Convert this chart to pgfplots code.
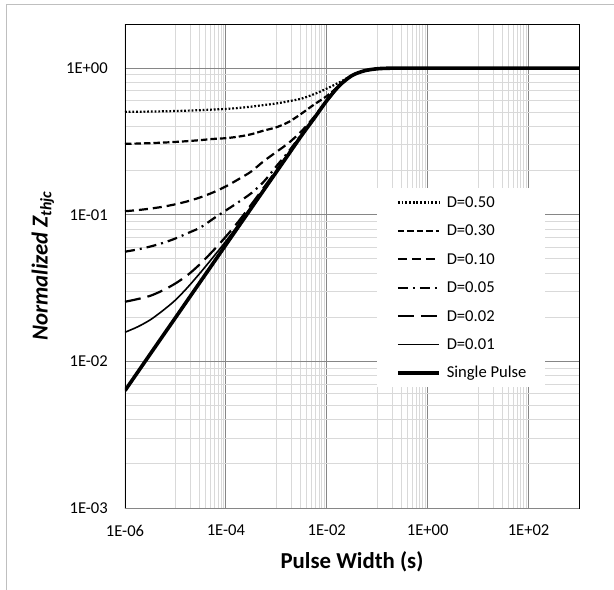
\documentclass[border=0pt]{standalone}
\usepackage{fontspec}
\setmainfont{Carlito}
\usepackage{pgfplots}
\pgfplotsset{compat=1.18}
\usepackage{pgfplotstable}

\definecolor{majgrid}{RGB}{134,134,134}
\definecolor{mingrid}{RGB}{217,217,217}
\definecolor{frame}{RGB}{191,191,191}
\newcommand\ticksize{\fontsize{16.6bp}{19bp}\selectfont}
\newcommand\titlesize{\fontsize{22.8bp}{26bp}\selectfont}

% normalized transient thermal impedance
\pgfplotstableread{
t        d50    d30    d10    d05    d02    d01    sp
1e-6     0.5032 0.3044 0.1057 0.0560 0.0255 0.0158 0.00632
1.778e-6 0.5042 0.3059 0.1076 0.0580 0.0266 0.0172 0.00842
3.162e-6 0.5056 0.3079 0.1101 0.0607 0.0280 0.0192 0.01122
5.623e-6 0.5075 0.3105 0.1134 0.0642 0.0305 0.0222 0.01493
1e-5     0.5099 0.3139 0.1179 0.0689 0.0340 0.0262 0.01986
1.778e-5 0.5130 0.3180 0.1238 0.0751 0.0390 0.0322 0.02644
3.162e-5 0.5170 0.3230 0.1317 0.0820 0.0465 0.0405 0.03519
5.623e-5 0.5220 0.3290 0.1422 0.0940 0.0570 0.0515 0.04684
1e-4     0.5270 0.3330 0.1561 0.1070 0.0710 0.0660 0.06237
1.778e-4 0.5350 0.3410 0.1747 0.1220 0.0900 0.0860 0.0830
3.162e-4 0.5460 0.3540 0.1970 0.1400 0.1170 0.1135 0.1105
5.623e-4 0.5600 0.3750 0.2320 0.1680 0.1530 0.1495 0.1471
1e-3     0.5740 0.3950 0.2680 0.2140 0.2010 0.1975 0.1958
1.778e-3 0.5950 0.4300 0.3100 0.2720 0.2640 0.2615 0.2606
3.162e-3 0.6200 0.4900 0.3720 0.3540 0.3490 0.3475 0.3470
5.623e-3 0.6650 0.5650 0.4650 0.4580 0.4560 0.4550 0.4550
1e-2     0.7250 0.6450 0.6030 0.6010 0.6000 0.6000 0.6000
1.778e-2 0.8000 0.7600 0.7600 0.7600 0.7600 0.7600 0.7600
3.162e-2 0.8900 0.8900 0.8900 0.8900 0.8900 0.8900 0.8900
5.623e-2 0.9600 0.9600 0.9600 0.9600 0.9600 0.9600 0.9600
0.1      0.9900 0.9900 0.9900 0.9900 0.9900 0.9900 0.9900
0.1778   0.9990 0.9990 0.9990 0.9990 0.9990 0.9990 0.9990
0.3162   1.0    1.0    1.0    1.0    1.0    1.0    1.0
1        1.0    1.0    1.0    1.0    1.0    1.0    1.0
10       1.0    1.0    1.0    1.0    1.0    1.0    1.0
100      1.0    1.0    1.0    1.0    1.0    1.0    1.0
1000     1.0    1.0    1.0    1.0    1.0    1.0    1.0
}\zth

\begin{document}
\begin{tikzpicture}
  \path[use as bounding box] (0,0) rectangle (614bp,590bp);
  \draw[frame, line width=1bp] (6bp,0) -- (6bp,585bp) -- (614bp,585bp);
  \begin{axis}[
      at={(125bp,82bp)}, anchor=south west,
      width=454bp, height=484bp, scale only axis,
      xmode=log, ymode=log,
      xmin=1e-6, xmax=1e3, ymin=1e-3, ymax=2,
      xtick={1e-6,1e-4,1e-2,1,100},
      xticklabels={1E-06,1E-04,1E-02,1E+00,1E+02},
      ytick={1e-3,1e-2,1e-1,1},
      yticklabels={1E-03,1E-02,1E-01,1E+00},
      minor xtick={1e-5,2e-5,3e-5,4e-5,5e-5,6e-5,7e-5,8e-5,9e-5,
                   1e-3,2e-3,3e-3,4e-3,5e-3,6e-3,7e-3,8e-3,9e-3,
                   0.1,0.2,0.3,0.4,0.5,0.6,0.7,0.8,0.9,
                   10,20,30,40,50,60,70,80,90},
      minor ytick={2e-3,3e-3,4e-3,5e-3,6e-3,7e-3,8e-3,9e-3,
                   0.02,0.03,0.04,0.05,0.06,0.07,0.08,0.09,
                   0.2,0.3,0.4,0.5,0.6,0.7,0.8,0.9,2},
      grid=both,
      major grid style={majgrid, line width=0.9bp},
      minor grid style={mingrid, line width=0.9bp},
      major tick length=0pt, minor tick length=0pt,
      axis line style={black, line width=0.9bp},
      tick label style={font=\ticksize},
      xticklabel style={inner sep=0pt, yshift=-17bp},
      yticklabel style={inner sep=0pt, xshift=-17bp},
      xlabel={\bfseries Pulse Width (s)},
      ylabel={\bfseries\itshape Normalized Z\textsubscript{thjc}},
      xlabel style={font=\titlesize, at={(axis description cs:0.5,-0.112)}, anchor=center},
      ylabel style={font=\titlesize, at={(axis description cs:-0.181,0.5)}, anchor=center, rotate=0},
      legend cell align=left,
      legend style={at={(rel axis cs:0.555,0.661)}, anchor=north west,
        draw=none, fill=white, inner xsep=19bp, inner ysep=0pt,
        row sep=0pt, font=\ticksize,
        nodes={inner sep=0pt, text height=19.3bp, text depth=9.1bp},
        /tikz/every odd column/.append style={column sep=6bp}},
      legend image code/.code={\draw[#1] (0bp,0bp) -- (41bp,0bp);},
    ]
    \addplot[black, line width=2.2bp, dash pattern=on 1.8bp off 1.9bp, smooth] table[x=t, y=d50] {\zth};
    \addplot[black, line width=2.2bp, dash pattern=on 6.5bp off 3bp, smooth] table[x=t, y=d30] {\zth};
    \addplot[black, line width=2.2bp, dash pattern=on 9bp off 5bp, smooth] table[x=t, y=d10] {\zth};
    \addplot[black, line width=2.2bp, dash pattern=on 10bp off 5bp on 2bp off 5bp, smooth] table[x=t, y=d05] {\zth};
    \addplot[black, line width=2.2bp, dash pattern=on 16bp off 7bp, smooth] table[x=t, y=d02] {\zth};
    \addplot[black, line width=1.6bp, smooth] table[x=t, y=d01] {\zth};
    \addplot[black, line width=3.6bp, smooth] table[x=t, y=sp] {\zth};
    \draw[majgrid, line width=1bp] (rel axis cs:0,1) -- (rel axis cs:0,0) -- (rel axis cs:1,0);
    \legend{D=0.50,D=0.30,D=0.10,D=0.05,D=0.02,D=0.01,Single Pulse}
  \end{axis}
\end{tikzpicture}
\end{document}
